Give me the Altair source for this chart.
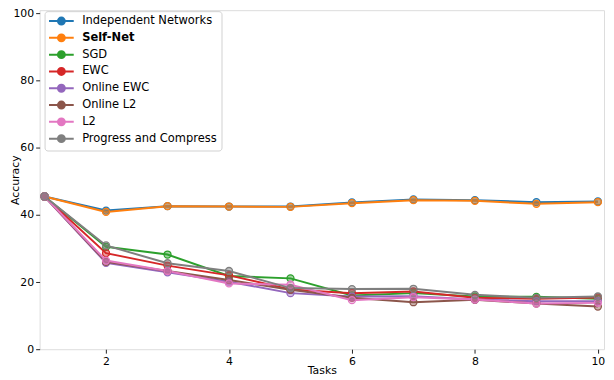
import altair as alt
import pandas as pd

tasks = [1, 2, 3, 4, 5, 6, 7, 8, 9, 10]
series_names = ["Independent Networks", "Self-Net", "SGD", "EWC", "Online EWC",
                "Online L2", "L2", "Progress and Compress"]
colors = ["#1f77b4", "#ff7f0e", "#2ca02c", "#d62728", "#9467bd",
          "#8c564b", "#e377c2", "#7f7f7f"]

independent = [45.5, 41.3, 42.6, 42.5, 42.5, 43.7, 44.6, 44.4, 43.8, 44.0]
self_net = [45.5, 40.9, 42.6, 42.5, 42.4, 43.5, 44.4, 44.2, 43.3, 43.8]
sgd = [45.5, 30.5, 28.2, 21.8, 21.1, 16.0, 16.7, 15.7, 15.6, 15.0]
ewc = [45.5, 28.6, 24.9, 22.0, 17.8, 16.7, 17.2, 15.3, 15.0, 15.4]
online_ewc = [45.5, 25.7, 22.9, 20.1, 16.7, 15.7, 15.8, 14.8, 14.3, 14.3]
online_l2 = [45.5, 26.0, 23.3, 20.6, 17.7, 15.3, 14.0, 14.7, 13.6, 12.7]
l2 = [45.5, 26.4, 23.3, 19.6, 19.2, 14.6, 15.5, 14.8, 13.6, 13.8]
progress_compress = [45.5, 30.9, 25.6, 23.3, 18.2, 17.9, 18.0, 16.2, 15.3, 15.7]

x_ticks = [2, 4, 6, 8, 10]
y_ticks = [0, 20, 40, 60, 80, 100]

all_series = [independent, self_net, sgd, ewc, online_ewc, online_l2, l2, progress_compress]
rows = []
for order, (name, vals) in enumerate(zip(series_names, all_series)):
    for t, v in zip(tasks, vals):
        rows.append({"Task": t, "Accuracy": v, "Method": name, "order": order})
df = pd.DataFrame(rows)

FONT = "DejaVu Sans"
LEG_PATH = ("M-2.5,0L-0.7,0M0.7,0L2.5,0M0.7,0A0.7,0.7,0,1,1,-0.7,0"
            "A0.7,0.7,0,1,1,0.7,0Z")

color_scale = alt.Scale(domain=series_names, range=colors)

x_enc = alt.X("Task:Q",
              scale=alt.Scale(domain=[0.92, 10.1], nice=False, zero=False),
              axis=alt.Axis(values=x_ticks, title="Tasks", grid=False,
                            tickSize=4, labelPadding=2, labelFontSize=11,
                            titleFontSize=11, titleFontWeight="normal",
                            labelFont=FONT, titleFont=FONT, domain=False,
                            tickColor="#222", labelColor="#000",
                            titleY=16, titleColor="#000"))
y_enc = alt.Y("Accuracy:Q",
              scale=alt.Scale(domain=[0, 101], nice=False),
              axis=alt.Axis(values=y_ticks, title="Accuracy", grid=False,
                            tickSize=4, labelPadding=2, labelFontSize=11,
                            titleFontSize=11, titleFontWeight="normal",
                            labelFont=FONT, titleFont=FONT, domain=False,
                            tickColor="#222", labelColor="#000",
                            titleX=-19, titleColor="#000"))

legend = alt.Legend(
    orient="none", legendX=5, legendY=1, title=None,
    symbolType=LEG_PATH, symbolSize=100, symbolStrokeWidth=2,
    symbolOffset=7, labelOffset=15, labelFontSize=11.6, labelFont=FONT,
    labelColor="#000", rowPadding=1, padding=4,
    strokeColor="#d0d0d0", fillColor="rgba(255,255,255,0.8)", cornerRadius=3,
    labelFontWeight=alt.ExprRef("datum.label == 'Self-Net' ? 'bold' : 'normal'"),
)

base = alt.Chart(df)

lines = base.mark_line(strokeWidth=2).encode(
    x=x_enc, y=y_enc,
    color=alt.Color("Method:N", scale=color_scale, sort=series_names, legend=legend),
    detail="Method:N",
    order="Task:Q",
)

points = base.mark_point(filled=True, size=50, opacity=1, fillOpacity=0.45,
                         strokeWidth=1.3).encode(
    x=x_enc, y=y_enc,
    fill=alt.Fill("Method:N", scale=color_scale, sort=series_names, legend=legend),
    stroke=alt.Stroke("Method:N", scale=color_scale, sort=series_names, legend=legend),
)

chart = alt.layer(lines, points).properties(
    width=571, height=343,
    autosize=alt.AutoSizeParams(type="none"),
    padding={"left": 32, "top": 0, "right": 2, "bottom": 31},
).configure_view(stroke="#222", strokeWidth=1).configure(background="white")

chart.save("out.html", embed_options={"renderer": "svg", "actions": False})
